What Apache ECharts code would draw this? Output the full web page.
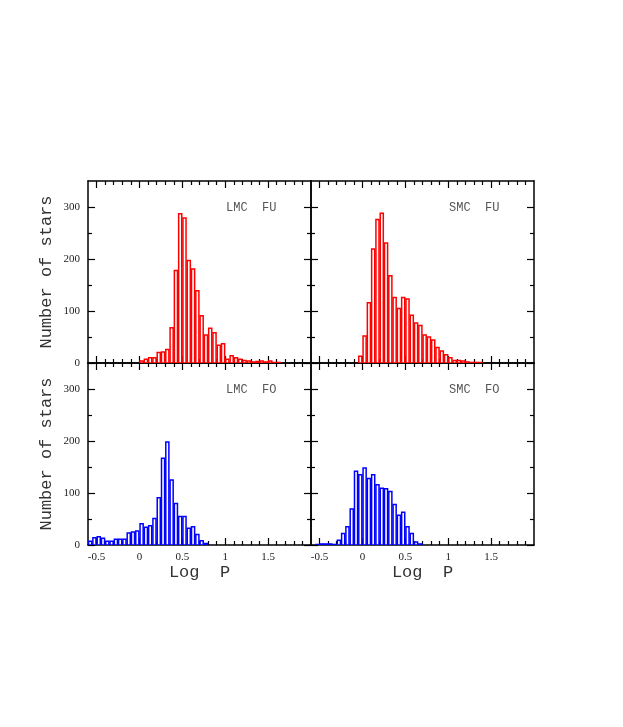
<!DOCTYPE html>
<html>
<head>
<meta charset="utf-8">
<script src="https://cdn.jsdelivr.net/npm/echarts@6/dist/echarts.min.js"></script>
<style>
html,body{margin:0;padding:0;background:#fff;}
#chart{width:623px;height:727px;}
</style>
</head>
<body>
<div id="chart"></div>
<script>
// Left edges of the Log P bins (bin width 0.05)
const logPBins = [-0.60,-0.55,-0.50,-0.45,-0.40,-0.35,-0.30,-0.25,-0.20,-0.15,-0.10,-0.05,
  0.00,0.05,0.10,0.15,0.20,0.25,0.30,0.35,0.40,0.45,0.50,0.55,0.60,0.65,0.70,0.75,0.80,0.85,
  0.90,0.95,1.00,1.05,1.10,1.15,1.20,1.25,1.30,1.35,1.40,1.45,1.50,1.55,1.60,1.65];
const BIN_WIDTH = 0.05;

const lmcFU = [0,0,0,0,0,0,0,0,0,0,0,0,
  4,7,10,10,20,21,26,68,178,287,279,197,181,139,91,54,67,58,
  34,37,7,14,10,7,5,4,2,3,4,2,4,1,1,0];
const smcFU = [0,0,0,0,0,0,0,0,0,0,0,13,
  52,116,219,276,288,231,168,126,105,126,123,92,77,72,54,50,44,30,
  23,16,10,5,5,4,2,1,1,1,0,0,0,0,0,0];
const lmcFO = [7,14,16,13,7,7,11,11,11,23,25,27,
  41,34,37,51,91,167,198,125,80,55,55,32,35,20,8,3,0,0,
  0,0,0,0,0,0,0,0,0,0,0,0,0,0,0,0];
const smcFO = [0,1,2,2,2,1,9,22,35,69,142,135,
  148,128,135,116,109,108,103,78,57,63,35,22,6,2,0,0,0,0,
  0,0,0,0,0,0,0,0,0,0,0,0,0,0,0,0];

const panelNames = ['LMC  FU', 'SMC  FU', 'LMC  FO', 'SMC  FO'];
const panelColors = ['#ff0000', '#ff0000', '#0000ff', '#0000ff'];
const panelCounts = [lmcFU, smcFU, lmcFO, smcFO];

const xMajorTicks = [-0.5, 0, 0.5, 1, 1.5];
const xMinorTicks = [-0.4,-0.3,-0.2,-0.1,0.1,0.2,0.3,0.4,0.6,0.7,0.8,0.9,1.1,1.2,1.3,1.4,1.6,1.7,1.8,1.9];
const yMajorTicks = [0, 100, 200, 300];
const yMinorTicks = [50, 150, 250];
const xName = 'Log  P';
const yName = 'Number of stars';

const X_MIN = -0.6, X_MAX = 2.0, Y_MIN = 0, Y_MAX = 350;

const layout = [
  {left: 88, top: 181, width: 223, height: 182},
  {left: 311, top: 181, width: 223, height: 182},
  {left: 88, top: 363, width: 223, height: 182},
  {left: 311, top: 363, width: 223, height: 182}
];
const labelPos = [
  {left: 226, top: 202},
  {left: 449, top: 202},
  {left: 226, top: 384},
  {left: 449, top: 384}
];

const lineStyle = {color: '#000', width: 1.5};
const tickStyle = {color: '#000', width: 1.2};
const labelFont = {fontFamily: 'Liberation Serif', fontSize: 11, color: '#222'};
const nameFont = {fontFamily: 'Liberation Mono', fontSize: 17, color: '#333'};

const grids = [], xAxes = [], yAxes = [], series = [], titles = [];

function tickAxis(base, position, showLine, len, values) {
  return Object.assign({}, base, {
    position: position,
    axisLine: {show: showLine, onZero: false, lineStyle: lineStyle},
    axisTick: {show: true, inside: true, length: len, customValues: values, lineStyle: tickStyle},
    axisLabel: {show: false}
  });
}

layout.forEach((g, i) => {
  grids.push({left: g.left, top: g.top, width: g.width, height: g.height, containLabel: false});
  const bottomRow = i >= 2, leftCol = (i % 2) === 0;
  const baseX = {gridIndex: i, type: 'value', min: X_MIN, max: X_MAX, splitLine: {show: false}};
  const baseY = {gridIndex: i, type: 'value', min: Y_MIN, max: Y_MAX, splitLine: {show: false}};
  // x: bottom major (with labels), bottom minor, top major, top minor
  const xb = tickAxis(baseX, 'bottom', true, 7, xMajorTicks);
  xb.axisLabel = {show: bottomRow, customValues: xMajorTicks, margin: 7, ...labelFont};
  xb.name = bottomRow ? xName : '';
  xb.nameLocation = 'middle';
  xb.nameGap = 19;
  xb.nameTextStyle = nameFont;
  xAxes.push(xb);
  xAxes.push(tickAxis(baseX, 'bottom', false, 4, xMinorTicks));
  xAxes.push(tickAxis(baseX, 'top', true, 7, xMajorTicks));
  xAxes.push(tickAxis(baseX, 'top', false, 4, xMinorTicks));
  // y: left major (with labels), left minor, right major, right minor
  const yl = tickAxis(baseY, 'left', true, 7, yMajorTicks);
  yl.axisLabel = {show: leftCol, customValues: yMajorTicks, margin: 8, ...labelFont};
  yl.name = leftCol ? yName : '';
  yl.nameLocation = 'middle';
  yl.nameGap = 33;
  yl.nameRotate = 90;
  yl.nameTextStyle = nameFont;
  yAxes.push(yl);
  yAxes.push(tickAxis(baseY, 'left', false, 4, yMinorTicks));
  yAxes.push(tickAxis(baseY, 'right', true, 7, yMajorTicks));
  yAxes.push(tickAxis(baseY, 'right', false, 4, yMinorTicks));

  const color = panelColors[i];
  const data = logPBins.map((b, k) => [b, panelCounts[i][k]]);
  series.push({
    type: 'custom',
    name: panelNames[i],
    xAxisIndex: i * 4,
    yAxisIndex: i * 4,
    data: data,
    encode: {x: 0, y: 1},
    clip: true,
    z: 5,
    renderItem: function (params, api) {
      const x = api.value(0), c = api.value(1);
      if (!(c > 0)) return null;
      const p0 = api.coord([x, c]);
      const p1 = api.coord([x + BIN_WIDTH, 0]);
      return {
        type: 'rect',
        shape: {x: p0[0] + 0.6, y: p0[1], width: p1[0] - p0[0] - 1.2, height: p1[1] - p0[1]},
        style: {fill: '#ffffff', stroke: color, lineWidth: 1.5}
      };
    }
  });

  titles.push({
    text: panelNames[i],
    left: labelPos[i].left,
    top: labelPos[i].top,
    padding: 0,
    textStyle: {fontFamily: 'Liberation Mono', fontSize: 12, fontWeight: 'normal', color: '#555'}
  });
});

const chart = echarts.init(document.getElementById('chart'), null, {renderer: 'canvas'});
chart.setOption({
  backgroundColor: '#ffffff',
  animation: false,
  title: titles,
  grid: grids,
  xAxis: xAxes,
  yAxis: yAxes,
  series: series
});
</script>
</body>
</html>
